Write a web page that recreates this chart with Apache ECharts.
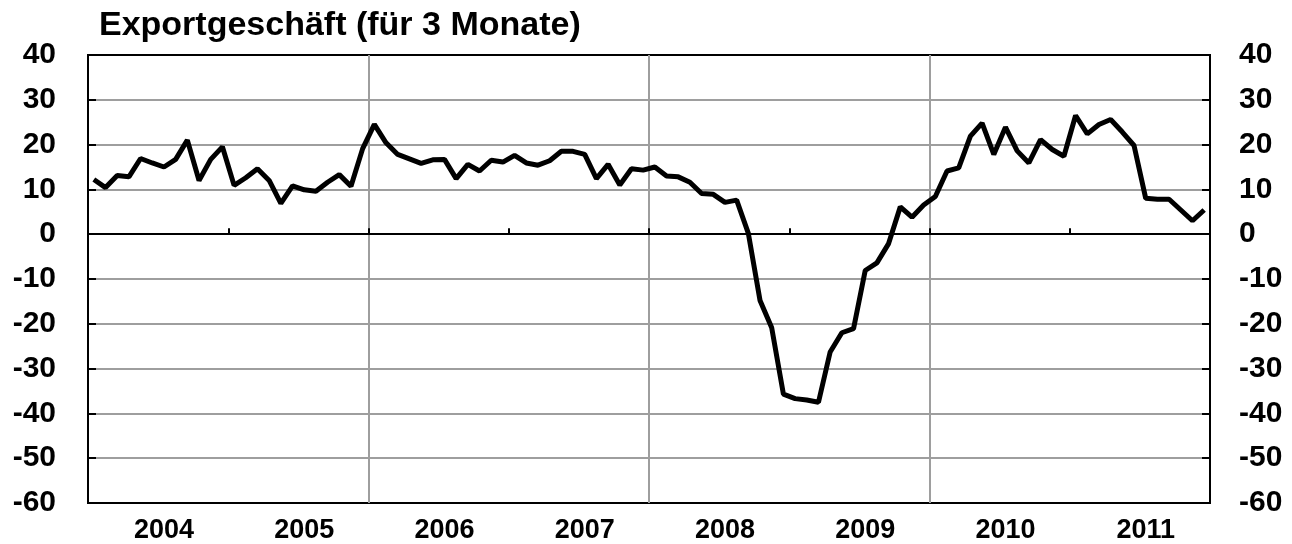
<!DOCTYPE html>
<html>
<head>
<meta charset="utf-8">
<script src="https://cdn.jsdelivr.net/npm/echarts@6/dist/echarts.min.js"></script>
<style>
    html, body { margin: 0; padding: 0; background: #fff; }
    #chart { width: 1292px; height: 544px; }
</style>
</head>
<body>
<div id="chart"></div>
<script>
// Jahre auf der x-Achse
const years = ['2004', '2005', '2006', '2007', '2008', '2009', '2010', '2011']

// Exportgeschäft (für 3 Monate), Monatswerte je Jahr
const export2004 = [12.2, 10.4, 13.1, 12.8, 16.9, 15.9, 15.0, 16.7, 21.0, 12.0, 16.7, 19.5]
const export2005 = [10.9, 12.6, 14.6, 12.0, 6.9, 10.8, 9.9, 9.6, 11.6, 13.3, 10.7, 19.1]
const export2006 = [24.5, 20.4, 17.8, 16.8, 15.8, 16.6, 16.7, 12.4, 15.6, 14.1, 16.5, 16.1]
const export2007 = [17.6, 15.9, 15.4, 16.4, 18.5, 18.5, 17.8, 12.4, 15.6, 11.0, 14.6, 14.3]
const export2008 = [15.0, 13.0, 12.8, 11.6, 9.1, 8.9, 7.1, 7.6, 0.2, -14.8, -20.9, -35.7]
const export2009 = [-36.7, -37.0, -37.5, -26.3, -22.0, -21.1, -8.1, -6.4, -2.1, 6.1, 3.8, 6.5]
const export2010 = [8.4, 14.1, 14.8, 21.9, 24.8, 17.8, 23.9, 18.6, 15.9, 21.1, 18.9, 17.4]
const export2011 = [26.5, 22.4, 24.5, 25.6, 22.8, 19.8, 8.0, 7.8, 7.8, 5.4, 3.0, 5.4]

// y-Achse
const yMin = -60
const yMax = 40
const yStep = 10

const font = "'Liberation Sans', Arial, sans-serif"

// Kategorien: ein Eintrag pro Monat
const months = []
years.forEach(y => {
    for (let m = 1; m <= 12; m++) {
        months.push(y + '-' + (m < 10 ? '0' + m : m))
    }
})
const values = [].concat(export2004, export2005, export2006, export2007,
    export2008, export2009, export2010, export2011)

const chart = echarts.init(document.getElementById('chart'))

const yAxisBase = {
    type: 'value',
    min: yMin,
    max: yMax,
    interval: yStep,
    axisLine: { show: true, lineStyle: { color: '#000', width: 2 } },
    axisTick: { show: true, inside: true, length: 8, lineStyle: { color: '#000', width: 2 } },
    axisLabel: {
        color: '#000',
        fontSize: 30,
        fontWeight: 'bold',
        fontFamily: font
    }
}

const option = {
    animation: false,
    backgroundColor: '#fff',
    title: {
        text: 'Exportgeschäft (für 3 Monate)',
        left: 94,
        top: 4,
        textStyle: {
            color: '#000',
            fontSize: 34,
            fontWeight: 'bold',
            fontFamily: font
        }
    },
    grid: {
        left: 88,
        right: 82,
        top: 55,
        bottom: 41,
        show: true,
        borderColor: '#000',
        borderWidth: 2
    },
    xAxis: {
        type: 'category',
        data: months,
        boundaryGap: true,
        axisLine: { show: true, lineStyle: { color: '#000', width: 2 } },
        axisTick: {
            show: true,
            inside: true,
            length: 6,
            interval: (i) => i % 12 === 0,
            lineStyle: { color: '#000', width: 2 }
        },
        splitLine: {
            show: true,
            // senkrechte Linien alle zwei Jahre
            interval: (i) => i > 0 && i < months.length && i % 24 === 0,
            lineStyle: { color: '#9e9e9e', width: 2 }
        },
        axisLabel: {
            interval: (i) => i % 12 === 6,
            formatter: v => v.slice(0, 4),
            color: '#000',
            fontSize: 27,
            fontWeight: 'bold',
            fontFamily: font,
            margin: 14
        }
    },
    yAxis: [
        Object.assign({}, yAxisBase, {
            position: 'left',
            splitLine: {
                show: true,
                showMinLine: false,
                showMaxLine: false,
                lineStyle: { color: '#9e9e9e', width: 2 }
            },
            axisLabel: Object.assign({}, yAxisBase.axisLabel, { margin: 32 })
        }),
        Object.assign({}, yAxisBase, {
            position: 'right',
            splitLine: { show: false },
            axisLabel: Object.assign({}, yAxisBase.axisLabel, { margin: 29 })
        })
    ],
    series: [{
        type: 'line',
        data: values,
        showSymbol: false,
        symbol: 'none',
        lineStyle: { color: '#000', width: 5 },
        itemStyle: { color: '#000' },
        markLine: {
            silent: true,
            symbol: 'none',
            label: { show: false },
            lineStyle: { color: '#000', width: 2, type: 'solid' },
            data: [{ yAxis: 0 }]
        }
    }]
}

chart.setOption(option)
</script>
</body>
</html>
